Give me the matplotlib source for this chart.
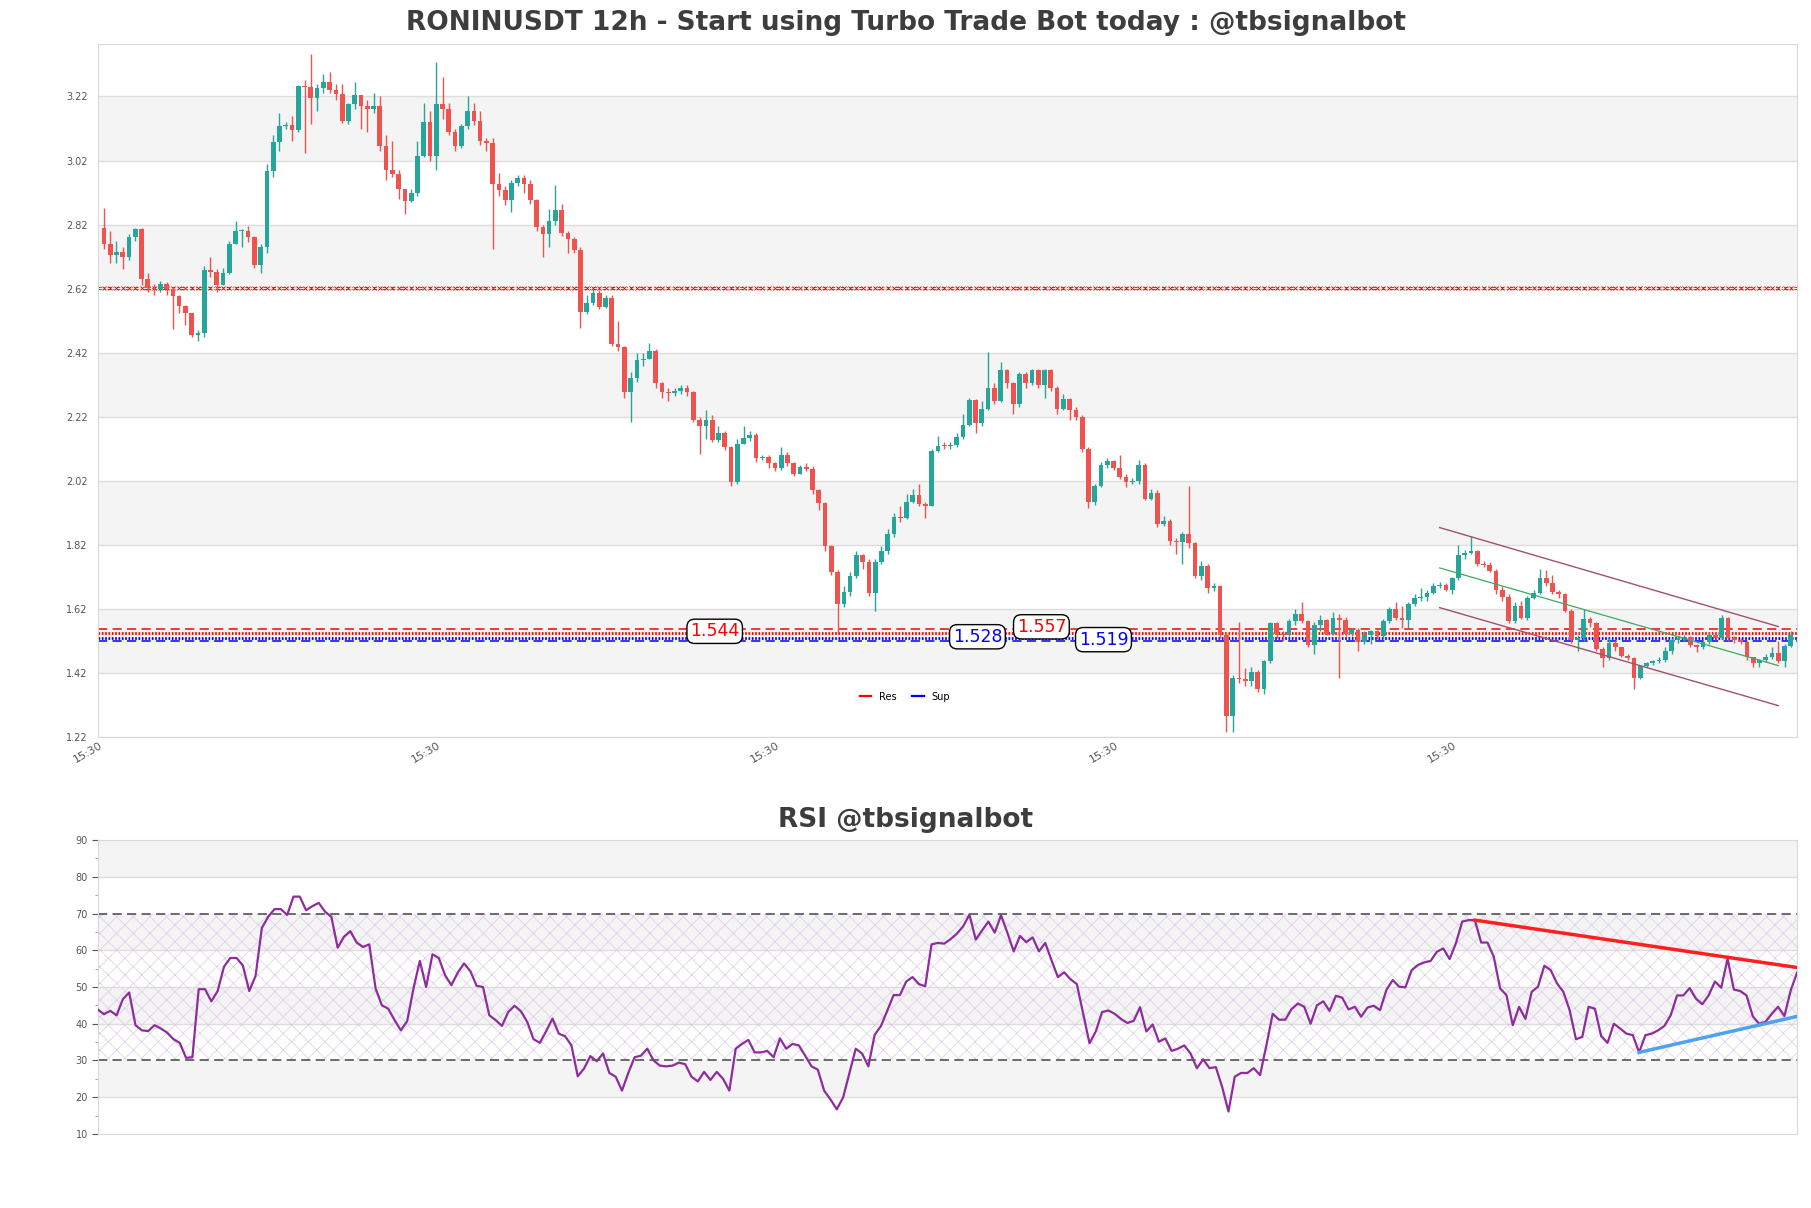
import numpy as np
import matplotlib
matplotlib.use("Agg")
import matplotlib.pyplot as plt
from matplotlib.lines import Line2D

plt.rcParams['font.family'] = ['DejaVu Sans']
plt.rcParams['hatch.linewidth'] = 0.5

title_main = "RONINUSDT 12h - Start using Turbo Trade Bot today : @tbsignalbot"
title_rsi = "RSI @tbsignalbot"

first_open = 2.808
close = [2.758, 2.725, 2.733, 2.72, 2.78, 2.806, 2.65, 2.623, 2.62, 2.636,
         2.619, 2.598, 2.565, 2.543, 2.476, 2.48, 2.678, 2.672, 2.63, 2.67,
         2.76, 2.80, 2.80, 2.78, 2.693, 2.75, 2.988, 3.079, 3.127, 3.13,
         3.115, 3.252, 3.25, 3.216, 3.246, 3.264, 3.24, 3.227, 3.144, 3.196,
         3.224, 3.19, 3.18, 3.19, 3.066, 2.99, 2.977, 2.93, 2.894, 2.92,
         3.034, 3.139, 3.034, 3.198, 3.181, 3.11, 3.066, 3.127, 3.174, 3.144,
         3.081, 3.075, 2.948, 2.929, 2.896, 2.951, 2.967, 2.946, 2.896, 2.813,
         2.792, 2.83, 2.866, 2.794, 2.775, 2.742, 2.548, 2.576, 2.606, 2.563,
         2.59, 2.446, 2.437, 2.298, 2.34, 2.396, 2.40, 2.426, 2.324, 2.298,
         2.295, 2.30, 2.31, 2.296, 2.211, 2.19, 2.211, 2.146, 2.168, 2.125,
         2.016, 2.135, 2.153, 2.163, 2.092, 2.095, 2.075, 2.06, 2.10, 2.075,
         2.042, 2.064, 2.058, 1.99, 1.951, 1.816, 1.734, 1.636, 1.673, 1.723,
         1.788, 1.767, 1.669, 1.767, 1.80, 1.853, 1.908, 1.905, 1.955, 1.977,
         1.947, 1.942, 2.114, 2.13, 2.128, 2.132, 2.157, 2.194, 2.272, 2.20,
         2.244, 2.309, 2.27, 2.367, 2.324, 2.259, 2.352, 2.324, 2.367, 2.32,
         2.367, 2.309, 2.244, 2.276, 2.24, 2.218, 2.12, 1.955, 2.003, 2.068,
         2.081, 2.06, 2.031, 2.016, 2.02, 2.07, 1.962, 1.983, 1.886, 1.896,
         1.832, 1.828, 1.853, 1.825, 1.723, 1.755, 1.686, 1.69, 1.539, 1.285,
         1.404, 1.40, 1.395, 1.424, 1.37, 1.456, 1.576, 1.543, 1.538, 1.582,
         1.604, 1.582, 1.506, 1.57, 1.586, 1.543, 1.593, 1.586, 1.543, 1.553,
         1.517, 1.539, 1.55, 1.535, 1.582, 1.619, 1.593, 1.586, 1.636, 1.654,
         1.658, 1.669, 1.69, 1.695, 1.68, 1.717, 1.788, 1.795, 1.80, 1.76,
         1.756, 1.738, 1.68, 1.658, 1.582, 1.63, 1.593, 1.654, 1.669, 1.717,
         1.702, 1.673, 1.665, 1.615, 1.522, 1.53, 1.587, 1.577, 1.495, 1.467,
         1.513, 1.50, 1.474, 1.468, 1.404, 1.441, 1.45, 1.456, 1.46, 1.489,
         1.522, 1.528, 1.533, 1.506, 1.50, 1.517, 1.54, 1.53, 1.593, 1.528,
         1.523, 1.518, 1.469, 1.452, 1.46, 1.47, 1.483, 1.456, 1.504, 1.539]
high = [2.871, 2.80, 2.77, 2.75, 2.79, 2.81, 2.81, 2.67, 2.635, 2.645,
        2.64, 2.625, 2.60, 2.57, 2.545, 2.49, 2.69, 2.72, 2.68, 2.685,
        2.77, 2.83, 2.805, 2.815, 2.785, 2.76, 3.01, 3.10, 3.17, 3.14,
        3.16, 3.255, 3.273, 3.352, 3.26, 3.29, 3.295, 3.26, 3.26, 3.20,
        3.265, 3.225, 3.21, 3.23, 3.22, 3.10, 3.08, 2.99, 2.93, 2.93,
        3.08, 3.20, 3.175, 3.327, 3.28, 3.20, 3.12, 3.135, 3.22, 3.20,
        3.175, 3.09, 3.09, 2.98, 2.94, 2.96, 2.975, 2.975, 2.96, 2.90,
        2.82, 2.87, 2.943, 2.885, 2.80, 2.78, 2.75, 2.60, 2.62, 2.615,
        2.60, 2.60, 2.52, 2.44, 2.36, 2.42, 2.42, 2.45, 2.43, 2.33,
        2.31, 2.31, 2.32, 2.32, 2.30, 2.22, 2.24, 2.225, 2.19, 2.175,
        2.13, 2.15, 2.19, 2.175, 2.17, 2.10, 2.10, 2.08, 2.125, 2.11,
        2.08, 2.07, 2.075, 2.065, 1.995, 1.955, 1.82, 1.74, 1.69, 1.735,
        1.80, 1.79, 1.775, 1.775, 1.815, 1.87, 1.92, 1.94, 1.98, 1.995,
        2.01, 1.955, 2.12, 2.16, 2.14, 2.14, 2.17, 2.23, 2.28, 2.275,
        2.27, 2.422, 2.325, 2.39, 2.37, 2.33, 2.36, 2.36, 2.37, 2.37,
        2.37, 2.37, 2.315, 2.29, 2.28, 2.25, 2.225, 2.125, 2.01, 2.08,
        2.09, 2.085, 2.10, 2.04, 2.03, 2.085, 2.075, 1.995, 1.99, 1.91,
        1.90, 1.84, 1.86, 2.005, 1.83, 1.77, 1.76, 1.70, 1.695, 1.545,
        1.415, 1.58, 1.435, 1.44, 1.43, 1.46, 1.58, 1.58, 1.55, 1.59,
        1.62, 1.64, 1.585, 1.58, 1.60, 1.59, 1.61, 1.605, 1.595, 1.56,
        1.56, 1.55, 1.555, 1.555, 1.59, 1.625, 1.64, 1.63, 1.64, 1.665,
        1.685, 1.68, 1.70, 1.705, 1.70, 1.72, 1.82, 1.805, 1.847, 1.805,
        1.77, 1.765, 1.745, 1.69, 1.665, 1.64, 1.645, 1.66, 1.68, 1.745,
        1.74, 1.725, 1.68, 1.67, 1.62, 1.54, 1.62, 1.595, 1.58, 1.50,
        1.53, 1.52, 1.50, 1.48, 1.47, 1.445, 1.455, 1.46, 1.47, 1.50,
        1.53, 1.535, 1.54, 1.535, 1.51, 1.52, 1.545, 1.545, 1.60, 1.595,
        1.535, 1.53, 1.52, 1.47, 1.465, 1.48, 1.50, 1.52, 1.51, 1.55]
low = [2.745, 2.70, 2.70, 2.68, 2.71, 2.77, 2.63, 2.61, 2.60, 2.61,
       2.60, 2.493, 2.545, 2.505, 2.47, 2.455, 2.47, 2.655, 2.61, 2.63,
       2.665, 2.76, 2.75, 2.765, 2.685, 2.67, 2.73, 2.97, 3.05, 3.12,
       3.08, 3.11, 3.042, 3.135, 3.175, 3.23, 3.23, 3.21, 3.138, 3.135,
       3.18, 3.117, 3.11, 3.17, 3.05, 2.96, 2.97, 2.90, 2.854, 2.89,
       2.91, 3.03, 3.02, 2.99, 3.15, 3.10, 3.05, 3.06, 3.12, 3.13,
       3.07, 3.05, 2.745, 2.91, 2.88, 2.86, 2.94, 2.92, 2.885, 2.80,
       2.72, 2.75, 2.82, 2.785, 2.73, 2.73, 2.498, 2.54, 2.57, 2.555,
       2.56, 2.44, 2.425, 2.28, 2.205, 2.33, 2.38, 2.40, 2.31, 2.28,
       2.27, 2.285, 2.29, 2.285, 2.205, 2.103, 2.15, 2.14, 2.14, 2.115,
       2.005, 2.01, 2.135, 2.145, 2.08, 2.085, 2.06, 2.05, 2.055, 2.065,
       2.035, 2.04, 2.05, 1.98, 1.93, 1.80, 1.725, 1.543, 1.625, 1.66,
       1.715, 1.745, 1.66, 1.615, 1.76, 1.79, 1.845, 1.89, 1.90, 1.95,
       1.94, 1.905, 1.94, 2.11, 2.12, 2.12, 2.125, 2.15, 2.19, 2.17,
       2.19, 2.24, 2.26, 2.265, 2.31, 2.23, 2.25, 2.31, 2.32, 2.31,
       2.28, 2.30, 2.23, 2.24, 2.21, 2.21, 2.11, 1.935, 1.945, 2.00,
       2.06, 2.055, 2.025, 2.00, 2.01, 2.01, 1.96, 1.96, 1.875, 1.88,
       1.82, 1.79, 1.76, 1.81, 1.715, 1.71, 1.67, 1.675, 1.53, 1.235,
       1.235, 1.39, 1.38, 1.38, 1.36, 1.355, 1.45, 1.53, 1.52, 1.535,
       1.57, 1.575, 1.50, 1.48, 1.55, 1.54, 1.54, 1.404, 1.535, 1.535,
       1.49, 1.51, 1.51, 1.525, 1.53, 1.575, 1.585, 1.56, 1.56, 1.63,
       1.645, 1.645, 1.665, 1.685, 1.675, 1.665, 1.71, 1.775, 1.79, 1.755,
       1.75, 1.735, 1.665, 1.645, 1.575, 1.575, 1.59, 1.585, 1.65, 1.665,
       1.69, 1.665, 1.655, 1.61, 1.515, 1.49, 1.52, 1.565, 1.49, 1.44,
       1.46, 1.49, 1.47, 1.46, 1.37, 1.40, 1.44, 1.445, 1.45, 1.455,
       1.48, 1.515, 1.52, 1.50, 1.485, 1.495, 1.51, 1.525, 1.525, 1.52,
       1.515, 1.51, 1.46, 1.44, 1.44, 1.455, 1.465, 1.45, 1.44, 1.50]

rsi = [43.9, 42.6, 43.5, 42.3, 46.7, 48.5, 39.6, 38.2, 38.0, 39.6,
       38.7, 37.6, 35.8, 34.8, 30.7, 30.9, 49.4, 49.4, 46.1, 48.9,
       55.5, 57.9, 57.9, 55.8, 48.9, 53.0, 66.1, 69.1, 71.2, 71.2,
       69.6, 74.6, 74.6, 70.9, 72.0, 72.9, 70.5, 69.1, 60.7, 63.7,
       65.2, 62.1, 60.9, 61.6, 49.6, 45.0, 44.1, 41.0, 38.2, 40.7,
       49.6, 57.1, 50.0, 58.9, 57.9, 53.2, 50.5, 53.9, 56.4, 54.3,
       50.3, 50.0, 42.3, 41.0, 39.4, 43.2, 44.9, 43.4, 40.5, 35.8,
       34.8, 38.0, 41.4, 37.3, 36.6, 34.1, 25.7, 27.8, 31.2, 29.8,
       31.9, 26.6, 25.6, 21.8, 26.6, 30.9, 31.3, 33.2, 30.0, 28.6,
       28.4, 28.6, 29.4, 29.0, 25.6, 24.3, 26.9, 24.7, 26.9, 25.0,
       21.8, 33.2, 34.5, 35.6, 32.2, 32.2, 32.6, 30.9, 36.0, 33.2,
       34.5, 34.1, 31.3, 28.4, 27.5, 21.8, 19.4, 16.7, 19.9, 26.6,
       33.2, 31.9, 28.4, 37.0, 39.4, 43.6, 47.8, 47.8, 51.5, 52.7,
       50.8, 50.2, 61.6, 62.0, 61.8, 63.0, 64.5, 66.5, 69.7, 62.9,
       65.4, 67.8, 64.8, 69.5, 64.8, 59.7, 63.9, 62.2, 63.5, 59.7,
       62.0, 57.2, 52.7, 54.0, 52.1, 50.8, 42.7, 34.7, 37.9, 43.2,
       43.6, 42.7, 41.3, 40.2, 40.8, 44.5, 37.9, 39.8, 35.1, 36.0,
       32.6, 33.2, 34.1, 31.9, 27.9, 30.3, 27.9, 28.2, 22.8, 16.1,
       25.6, 26.6, 26.6, 27.9, 26.0, 34.1, 42.7, 41.1, 41.1, 44.0,
       45.5, 44.6, 40.0, 45.0, 46.1, 43.5, 47.6, 47.1, 43.9, 44.6,
       41.9, 44.4, 44.9, 43.7, 49.2, 51.9, 50.1, 49.9, 54.6, 56.0,
       56.7, 57.1, 59.6, 60.5, 57.6, 61.9, 67.8, 68.2, 68.2, 62.1,
       62.1, 58.2, 49.6, 47.8, 39.6, 44.6, 41.3, 48.7, 50.1, 55.8,
       54.6, 51.0, 48.7, 43.7, 35.8, 36.4, 44.6, 44.1, 36.6, 34.8,
       40.0, 38.7, 37.3, 36.9, 32.2, 36.9, 37.3, 38.2, 39.4, 42.3,
       47.7, 47.7, 49.7, 46.8, 45.3, 47.7, 51.5, 49.8, 57.7, 49.3,
       48.9, 47.7, 42.0, 40.0, 40.5, 42.7, 44.6, 42.1, 49.1, 53.9]

# horizontal levels
band_level = 2.623
res_levels = [1.557, 1.544]
sup_levels = [1.528, 1.519]
level_labels = [("1.544", 97.4, 1.550, "red"), ("1.528", 139.3, 1.533, "blue"),
                ("1.557", 149.5, 1.564, "red"), ("1.519", 159.4, 1.524, "blue")]

# price channel
chan_x = [213, 267]
chan_upper = [1.874, 1.565]
chan_mid = [1.748, 1.443]
chan_lower = [1.624, 1.318]

# RSI trend lines
rsi_res_x = [218, 269]
rsi_res_y = [68.2, 55.3]
rsi_sup_x = [244, 269]
rsi_sup_y = [32.2, 42.0]

xtick_pos = [0, 54, 108, 162, 216]
xtick_lab = ["15:30"] * 5
price_ticks = [1.22, 1.42, 1.62, 1.82, 2.02, 2.22, 2.42, 2.62, 2.82, 3.02, 3.22]
rsi_ticks = [10, 20, 30, 40, 50, 60, 70, 80, 90]

GREEN = "#26a69a"
RED = "#ef5350"
BAND = "#f4f4f4"
GRID = "#dddddd"
TXT = "#555555"

n = len(close)
x = np.arange(n)
close_a = np.array(close)
open_a = np.concatenate([[first_open], close_a[:-1]])
high_a = np.array(high)
low_a = np.array(low)

fig = plt.figure(figsize=(18.11, 12.08), dpi=100)
ax = fig.add_axes([0.0539, 0.3899, 0.9384, 0.5737])
ax2 = fig.add_axes([0.0539, 0.0613, 0.9384, 0.2433])

# ---- main chart ----
ymin, ymax = 1.22, 3.384
for i in range(len(price_ticks)):
    if i % 2 == 1 and i + 1 < len(price_ticks):
        ax.axhspan(price_ticks[i], price_ticks[i + 1], color=BAND, zorder=0, lw=0)
for t in price_ticks:
    ax.axhline(t, color=GRID, lw=1, zorder=0.5)

# red x band
ax.plot(x, [band_level] * n, ls="none", marker="x", ms=3.4, mew=0.6,
        color="red", zorder=1.5)
ax.plot([-1, n], [band_level + 0.0035] * 2, color="red", lw=0.6, ls=(0, (4, 3, 1, 3)), zorder=1.5)
ax.plot([-1, n], [band_level - 0.0035] * 2, color="red", lw=0.6, ls=(0, (4, 3, 1, 3)), zorder=1.5)

ax.axhline(res_levels[0], color="red", lw=1.1, ls=(0, (6, 3.5)), zorder=1.6)
ax.axhline(res_levels[1], color="red", lw=2.0, ls=(0, (0.6, 0.6)), zorder=1.6)
ax.axhline(sup_levels[0], color="blue", lw=2.0, ls=(0, (0.6, 0.6)), zorder=1.6)
ax.axhline(sup_levels[1], color="blue", lw=1.1, ls=(0, (6, 3.5)), zorder=1.6)

colors = [GREEN if c >= o else RED for o, c in zip(open_a, close_a)]
ax.vlines(x, low_a, high_a, colors=colors, lw=1.0, zorder=3)
body_h = np.maximum(np.abs(close_a - open_a), 0.003)
ax.bar(x, body_h, bottom=np.minimum(open_a, close_a), width=0.75, color=colors, lw=0, zorder=3)

ax.plot(chan_x, chan_upper, color="#a0526d", lw=1.0, zorder=4)
ax.plot(chan_x, chan_lower, color="#a0526d", lw=1.0, zorder=4)
ax.plot(chan_x, chan_mid, color="#3daa5c", lw=0.9, zorder=4)

for txt, xi, yi, col in level_labels:
    ax.text(xi, yi, txt, color=col, fontsize=12.5, ha="center", va="center", zorder=6,
            bbox=dict(boxstyle="round,pad=0.18,rounding_size=0.45", fc="white", ec="black", lw=1))

handles = [Line2D([], [], color="red", lw=1.6), Line2D([], [], color="blue", lw=1.6)]
ax.legend(handles, ["Res", "Sup"], loc="center", bbox_to_anchor=(0.475, 0.058), ncol=2,
          frameon=False, fontsize=7, handlelength=1.2, columnspacing=1.6, handletextpad=0.8)

ax.set_xlim(-1, n)
ax.set_ylim(ymin, ymax)
ax.set_yticks(price_ticks)
ax.set_yticklabels([f"{t:.2f}" for t in price_ticks])
ax.set_xticks(xtick_pos)
ax.set_xticklabels(xtick_lab, rotation=30, ha="right")
ax.tick_params(axis="both", length=0, labelsize=7, colors=TXT, pad=7)
ax.tick_params(axis="x", labelsize=8, pad=2)
for s in ax.spines.values():
    s.set_color("#d9d9d9")

# ---- RSI ----
for lo in [20, 40, 60, 80]:
    ax2.axhspan(lo, lo + 10, color=BAND, zorder=0, lw=0)
for t in [20, 40, 50, 60, 80]:
    ax2.axhline(t, color=GRID, lw=1, zorder=0.5)
ax2.fill_between([0, n - 1], 30, 70, facecolor="none", edgecolor="#dccbe6", hatch="xx", lw=0, zorder=0.8)
ax2.axhline(70, color="#444444", lw=1.1, ls=(0, (6, 3.5)), zorder=1)
ax2.axhline(30, color="#444444", lw=1.1, ls=(0, (6, 3.5)), zorder=1)
ax2.plot(x, rsi, color="#8e2c9e", lw=1.6, zorder=3)
ax2.plot(rsi_res_x, rsi_res_y, color="#ff1f1f", lw=2.5, zorder=4)
ax2.plot(rsi_sup_x, rsi_sup_y, color="#4da3f0", lw=2.5, zorder=4)
ax2.set_xlim(0, n - 1)
ax2.set_ylim(10, 90)
ax2.set_yticks(rsi_ticks)
ax2.set_yticks(np.arange(15, 90, 10), minor=True)
ax2.set_xticks([])
ax2.tick_params(axis="y", which="major", length=4, labelsize=7, colors=TXT, pad=3)
ax2.tick_params(axis="y", which="minor", length=2, colors="#999999")
for s in ax2.spines.values():
    s.set_color("#d9d9d9")

fig.text(0.5, 0.981, title_main, ha="center", va="center", fontsize=19, fontweight="bold", color="#3d3d3d")
fig.text(0.5, 0.321, title_rsi, ha="center", va="center", fontsize=19, fontweight="bold", color="#3d3d3d")

fig.savefig("out.png", dpi=100)
